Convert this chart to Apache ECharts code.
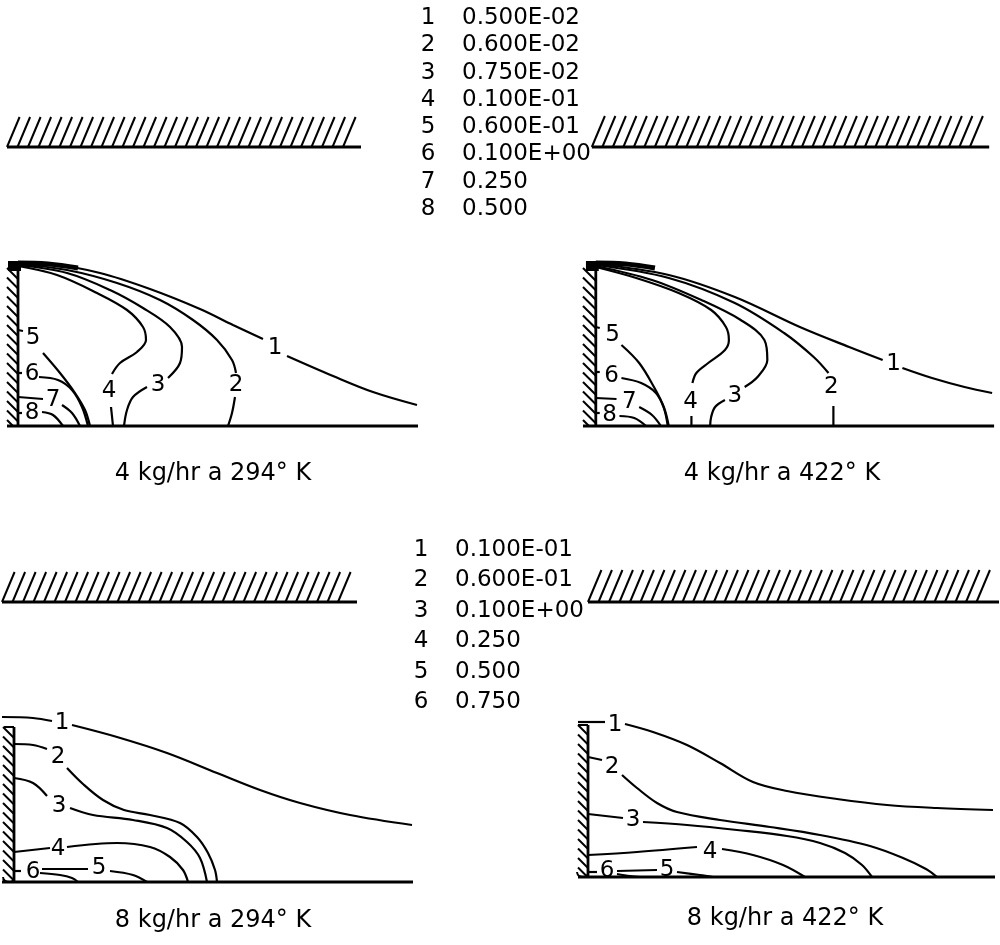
<!DOCTYPE html>
<html>
<head>
<meta charset="utf-8">
<script src="https://cdn.jsdelivr.net/npm/echarts@6.0.0/dist/echarts.min.js"></script>
<style>
  html, body { margin: 0; padding: 0; background: #fff; }
  #chart { width: 1000px; height: 945px; }
</style>
</head>
<body>
<div id="chart"></div>
<script>
// legend values of the contour levels
var levels4 = ['0.500E-02', '0.600E-02', '0.750E-02', '0.100E-01', '0.600E-01', '0.100E+00', '0.250', '0.500']
var levels8 = ['0.100E-01', '0.600E-01', '0.100E+00', '0.250', '0.500', '0.750']
var titles = ['4 kg/hr a 294° K', '4 kg/hr a 422° K', '8 kg/hr a 294° K', '8 kg/hr a 422° K']

// contours: each one is a list of segments (split where the number sits)
var linesA = [
  [[[0, 163], [32, 162], [82, 153], [132, 137], [182, 117], [215, 101], [245, 87]], [[269, 70], [315, 50], [355, 34], [399, 21]]],
  [[[0, 162], [49, 156], [99, 143], [142, 126], [175, 106], [199, 86], [214, 66], [218, 53]], [[217, 29], [214, 13], [210, 0]]],
  [[[0, 161], [49, 153], [92, 136], [125, 118], [152, 99], [164, 79], [162, 63], [150, 48]], [[129, 39], [115, 29], [109, 16], [106, 0]]],
  [[[0, 160], [39, 151], [79, 133], [109, 116], [125, 99], [128, 86], [119, 74], [102, 63], [94, 52]], [[93, 19], [95, 0]]],
  [[[0, 96], [5, 95]], [[25, 73], [42, 53], [57, 33], [67, 16], [72, 0]]],
  [[[0, 53], [4, 53]], [[21, 49], [40, 46], [54, 36], [64, 19], [70, 0]]],
  [[[0, 29], [25, 27]], [[44, 21], [54, 13], [62, 0]]],
  [[[0, 13], [4, 13]], [[24, 14], [35, 11], [45, 0]]]
]
var labelsA = [[257, 78], [218, 41], [140, 41], [91, 35], [15, 88], [14, 52], [35, 26], [14, 13]]

var linesB = [
  [[[0, 162], [74, 151], [141, 129], [207, 99], [257, 79], [291, 66]], [[311, 58], [341, 48], [374, 39], [402, 33]]],
  [[[0, 161], [74, 148], [141, 123], [191, 93], [221, 69], [236, 53]], [[241, 20], [241, 0]]],
  [[[0, 160], [57, 146], [107, 126], [147, 106], [171, 86], [174, 66], [164, 49], [151, 39]], [[131, 26], [121, 19], [117, 9], [116, 0]]],
  [[[0, 159], [41, 148], [84, 133], [117, 116], [132, 99], [135, 86], [131, 76], [114, 63], [102, 53], [98, 43]], [[97, 10], [97, 0]]],
  [[[0, 99], [4, 98]], [[26, 81], [44, 63], [59, 39], [69, 19], [74, 0]]],
  [[[0, 54], [4, 54]], [[26, 48], [46, 43], [61, 33], [69, 18], [73, 0]]],
  [[[0, 28], [21, 27]], [[44, 19], [57, 11], [66, 0]]],
  [[[0, 13], [4, 13]], [[24, 10], [39, 8], [51, 0]]]
]
var labelsB = [[302, 62], [239, 39], [141, 30], [96, 24], [17, 91], [16, 50], [34, 24], [14, 11]]

var linesC = [
  [[[-12, 165], [19, 164], [38, 161]], [[58, 157], [103, 145], [153, 129], [203, 109], [246, 92], [286, 79], [336, 67], [398, 57]]],
  [[[0, 138], [19, 137], [33, 133]], [[53, 114], [69, 98], [89, 82], [110, 72], [136, 67], [166, 59], [183, 45], [194, 29], [201, 12], [203, 0]]],
  [[[0, 104], [19, 99], [33, 86]], [[56, 74], [79, 67], [119, 62], [153, 54], [173, 40], [186, 24], [193, 0]]],
  [[[0, 30], [36, 34]], [[53, 35], [103, 39], [136, 35], [156, 25], [169, 12], [174, 0]]],
  [[[28, 13], [74, 13]], [[96, 11], [119, 7], [133, 0]]],
  [[[0, 11], [7, 11]], [[26, 9], [46, 7], [58, 4], [64, 0]]]
]
var labelsC = [[48, 159], [44, 125], [45, 76], [44, 33], [85, 14], [19, 10]]

var linesD = [
  [[[-10, 155], [17, 155]], [[37, 153], [65, 145], [99, 132], [132, 114], [165, 95], [199, 86], [249, 78], [299, 72], [349, 69], [405, 67]]],
  [[[0, 120], [14, 117]], [[34, 102], [49, 89], [69, 74], [89, 65], [132, 57], [182, 50], [232, 42], [282, 31], [315, 19], [338, 8], [349, 0]]],
  [[[0, 63], [35, 59]], [[55, 55], [99, 52], [149, 47], [199, 41], [232, 34], [257, 24], [274, 12], [284, 0]]],
  [[[0, 22], [49, 25], [109, 30]], [[134, 28], [165, 22], [195, 12], [217, 0]]],
  [[[29, 6], [69, 7]], [[89, 5], [112, 2], [125, 0]]],
  [[[0, 5], [9, 5]], [[29, 3], [42, 1], [52, 0]]]
]
var labelsD = [[27, 152], [24, 110], [45, 57], [122, 25], [79, 7], [19, 6]]

// walls: [x0, x1, y0, y1]
var roofA = [-11, 341, 279, 309], sideA = [-11, 0, 0, 158], wallTopA = 163, floorA = [-11, 400]
var roofB = [-4, 397, 279, 310], sideB = [-13, 0, 0, 158], wallTopB = 163, floorB = [-13, 404]
var roofC = [-12, 341, 280, 310], sideC = [-11, 0, 0, 155], wallTopC = 155, floorC = [-12, 399]
var roofD = [0, 409, 275, 307], sideD = [-10, 0, 0, 152], wallTopD = 152, floorD = [-10, 407]

var panels = [
  { lines: linesA, labels: labelsA, roof: roofA, side: sideA, wallTop: wallTopA, floor: floorA, ox: 18, oy: 426, cap: true },
  { lines: linesB, labels: labelsB, roof: roofB, side: sideB, wallTop: wallTopB, floor: floorB, ox: 596, oy: 426, cap: true },
  { lines: linesC, labels: labelsC, roof: roofC, side: sideC, wallTop: wallTopC, floor: floorC, ox: 14, oy: 882, cap: false },
  { lines: linesD, labels: labelsD, roof: roofD, side: sideD, wallTop: wallTopD, floor: floorD, ox: 588, oy: 877, cap: false }
]

var X_MIN = -14, X_MAX = 410, Y_MIN = -10, Y_MAX = 315
var FONT = '"DejaVu Sans", sans-serif'

function hatchItem(params, api) {
  var kind = api.value(4)
  var p0 = api.coord([api.value(0), api.value(2)])
  var p1 = api.coord([api.value(1), api.value(3)])
  var left = p0[0], right = p1[0], bottom = p0[1], top = p1[1]
  var kids = []
  var st = { stroke: '#000', lineWidth: 2 }
  if (kind === 0) {
    // roof: "/" hatching above a heavy line
    var dx = (bottom - top) * 0.42
    for (var x = left; x + dx <= right + 2; x += 10.5) {
      kids.push({ type: 'line', shape: { x1: x, y1: bottom, x2: x + dx, y2: top }, style: st })
    }
    kids.push({ type: 'line', shape: { x1: left, y1: bottom, x2: right + 2, y2: bottom }, style: { stroke: '#000', lineWidth: 3 } })
  } else {
    // side wall: "\" hatching
    var w = right - left
    for (var y = top; y < bottom; y += 9.5) {
      var y2 = Math.min(y + w, bottom)
      var x2 = left + (y2 - y)
      kids.push({ type: 'line', shape: { x1: left, y1: y, x2: x2, y2: y2 }, style: st })
    }
  }
  return { type: 'group', children: kids }
}

var grids = [], xAxes = [], yAxes = [], series = [], graphics = []

panels.forEach(function (p, i) {
  grids.push({ left: p.ox + X_MIN, top: p.oy - Y_MAX, width: X_MAX - X_MIN, height: Y_MAX - Y_MIN })
  xAxes.push({ gridIndex: i, type: 'value', min: X_MIN, max: X_MAX, show: false })
  yAxes.push({ gridIndex: i, type: 'value', min: Y_MIN, max: Y_MAX, show: false })

  series.push({
    type: 'custom', xAxisIndex: i, yAxisIndex: i, renderItem: hatchItem, silent: true, z: 2,
    data: [p.roof.concat([0]), p.side.concat([1])]
  })

  var base = { type: 'line', xAxisIndex: i, yAxisIndex: i, showSymbol: false, symbol: 'none', silent: true, z: 3 }
  // wall, floor
  series.push(Object.assign({}, base, { data: [[0, 0], [0, p.wallTop]], lineStyle: { color: '#000', width: 2.8 } }))
  series.push(Object.assign({}, base, { data: [[p.floor[0], 0], [p.floor[1], 0]], lineStyle: { color: '#000', width: 3 } }))
  if (p.cap) {
    series.push(Object.assign({}, base, { data: [[-10, 160], [3, 160]], lineStyle: { color: '#000', width: 10 } }))
    series.push(Object.assign({}, base, { data: [[0, 163], [30, 162], [60, 158]], smooth: 0.4, lineStyle: { color: '#000', width: 5 } }))
  } else {
    series.push(Object.assign({}, base, { data: [[-10, p.wallTop], [0, p.wallTop]], lineStyle: { color: '#000', width: 2 } }))
    // little hook at the foot of the wall
    series.push(Object.assign({}, base, { data: [[-11, 5], [-9, 1], [-4, 0], [0, 3]], smooth: 0.5, lineStyle: { color: '#000', width: 2 } }))
  }

  p.lines.forEach(function (segs) {
    segs.forEach(function (seg) {
      series.push(Object.assign({}, base, { data: seg, smooth: 0.35, lineStyle: { color: '#000', width: 2.2 } }))
    })
  })

  series.push({
    type: 'scatter', xAxisIndex: i, yAxisIndex: i, silent: true, z: 4,
    symbolSize: 1, itemStyle: { color: '#fff' },
    data: p.labels.map(function (d, k) { return [d[0], d[1], String(k + 1)] }),
    label: {
      show: true, position: 'inside', color: '#000', opacity: 1, textBorderWidth: 0, fontSize: 23, fontFamily: FONT,
      formatter: function (q) { return q.value[2] }
    }
  })
})

function txt(s, x, y, size, align) {
  return { type: 'text', silent: true, style: { text: s, x: x, y: y, fill: '#000', font: size + 'px ' + FONT, textAlign: align, textVerticalAlign: 'middle' } }
}

levels4.forEach(function (v, k) {
  graphics.push(txt(String(k + 1), 428, 18 + 27.3 * k, 23, 'center'))
  graphics.push(txt(v, 462, 18 + 27.3 * k, 23, 'left'))
})
levels8.forEach(function (v, k) {
  graphics.push(txt(String(k + 1), 421, 550 + 30.4 * k, 23, 'center'))
  graphics.push(txt(v, 455, 550 + 30.4 * k, 23, 'left'))
})
var titlePos = [[213, 474], [782, 474], [213, 921], [785, 919]]
titles.forEach(function (t, k) {
  graphics.push(txt(t, titlePos[k][0], titlePos[k][1], 24, 'center'))
})

var chart = echarts.init(document.getElementById('chart'))
chart.setOption({
  animation: false,
  backgroundColor: '#fff',
  grid: grids,
  xAxis: xAxes,
  yAxis: yAxes,
  series: series,
  graphic: graphics
})
</script>
</body>
</html>
